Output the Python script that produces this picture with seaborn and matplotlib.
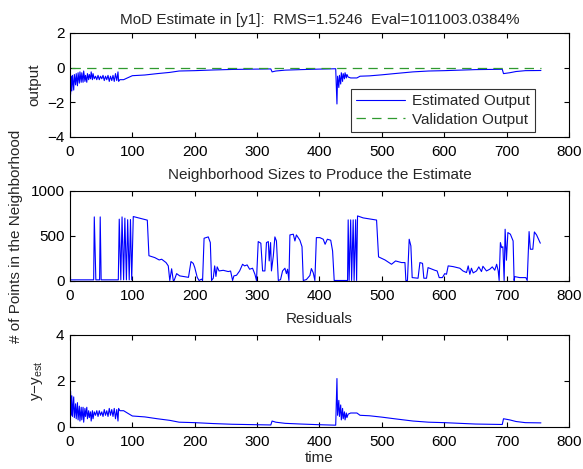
import matplotlib
matplotlib.use("Agg")
import matplotlib.pyplot as plt
import seaborn as sns

# residuals y - y_est (validation output is 0)
res_t = [1, 2, 3, 4, 6, 7, 9, 10, 12, 13, 15, 16, 18, 19, 21, 22, 24, 25, 27, 28,
         30, 31, 33, 34, 36, 37, 39, 41, 43, 45, 47, 49, 51, 53, 55, 57, 59, 61, 63, 65,
         67, 69, 71, 73, 75, 77, 78, 80, 86, 92, 100, 120, 140, 160, 175, 200, 230, 260,
         300, 322, 324, 330, 345, 370, 400, 426, 428, 429, 431, 432, 434, 435, 437, 438,
         440, 441, 443, 444, 446, 450, 460, 465, 480, 500, 520, 550, 575, 600, 650, 693,
         695, 705, 715, 730, 755]
res_v = [1.55, 0.5, 1.35, 0.45, 1.3, 0.4, 1.0, 0.35, 1.05, 0.3, 0.9, 0.25, 0.85, 0.3, 0.85, 0.2, 0.8, 0.45, 0.85, 0.35,
         0.7, 0.4, 0.65, 0.25, 0.7, 0.35, 0.65, 0.5, 0.7, 0.45, 0.7, 0.5, 0.65, 0.45, 0.75, 0.5, 0.7, 0.45, 0.8, 0.5,
         0.75, 0.45, 0.8, 0.35, 0.75, 0.25, 0.8, 0.7, 0.7, 0.6, 0.47, 0.43, 0.35, 0.28, 0.2, 0.18, 0.14, 0.11,
         0.09, 0.08, 0.25, 0.2, 0.15, 0.12, 0.09, 0.07, 2.1, 0.5, 1.15, 0.45, 0.95, 0.3, 0.8, 0.35,
         0.65, 0.3, 0.6, 0.4, 0.55, 0.6, 0.6, 0.5, 0.48, 0.42, 0.35, 0.25, 0.2, 0.18, 0.12, 0.1,
         0.35, 0.3, 0.23, 0.18, 0.17]

# validation output (constant zero)
val_t = [1, 755]
val_v = [0, 0]

# estimated output = validation - residual
est_v = [0 - r for r in res_v]

# neighbourhood sizes
nb_t = [0, 38, 39, 41.5, 47.5, 48.5, 50, 77.5, 79, 81.5, 83.5, 86, 88, 90.5, 92.5, 95, 97, 99, 101.5, 110,
        124, 126.6, 136, 143, 147, 154, 157.6, 160, 163, 165.6, 167, 171, 176, 190, 194, 197.6, 200, 204, 207, 211,
        212.6, 215, 221.7, 225, 227, 229.7, 232, 234, 236, 239, 245.7, 253.7, 257.5, 260.7, 262.8, 267, 272, 276.7, 280, 284,
        288, 292.7, 296.5, 299, 301.8, 306, 308.8, 312.5, 315, 318, 319.4, 321.6, 323, 326, 328.5, 331, 334, 337.6, 340.8, 344.6,
        347, 348.8, 351, 352.6, 358, 360.6, 363, 368.6, 372, 374, 379, 384.6, 387, 390, 392.6, 395, 400.6, 406, 409, 412.6,
        418, 421, 423.6, 445, 446, 447.5, 450, 451.5, 454, 455.5, 458, 459.5, 461, 470, 491.5, 494.7, 505, 515.5, 522, 531.5,
        537, 538.5, 541, 543.8, 546.5, 548.6, 558, 561, 565.2, 567.3, 571.6, 574, 585, 588.6, 591.9, 597, 600.8, 603.6, 606.3, 614.3,
        625, 630, 635.7, 638.4, 641, 643.6, 646.4, 651.7, 655.4, 659.7, 662, 667.7, 673, 677, 681, 684, 686.5, 688, 690, 692,
        694, 696, 697.6, 699.7, 702, 706, 710.4, 712, 713, 721, 730.8, 733, 736, 738, 742, 744.5, 748, 754]
nb_v = [12, 12, 711, 12, 12, 711, 12, 12, 686, 12, 711, 12, 697, 12, 680, 12, 682, 12, 715, 700,
        675, 280, 259, 233, 241, 204, 167, 5, 135, 5, 5, 81, 56, 40, 215, 195, 150, 40, 5, 20,
        5, 474, 489, 426, 5, 30, 167, 50, 156, 111, 118, 104, 110, 5, 56, 63, 111, 185, 167, 178,
        130, 141, 74, 5, 437, 419, 111, 111, 426, 437, 222, 426, 111, 278, 489, 444, 5, 15, 111, 141,
        81, 130, 5, 511, 519, 444, 511, 452, 380, 5, 15, 60, 137, 90, 5, 481, 481, 463, 407, 463,
        452, 333, 5, 5, 678, 5, 678, 5, 678, 5, 680, 5, 722, 700, 676, 267, 233, 185, 222, 204,
        204, 5, 5, 463, 389, 37, 30, 204, 195, 30, 30, 148, 118, 111, 37, 37, 81, 74, 167, 159,
        141, 111, 93, 167, 74, 141, 89, 111, 156, 104, 163, 111, 130, 156, 119, 185, 111, 5, 426, 370,
        380, 5, 574, 230, 537, 519, 444, 5, 48, 37, 37, 5, 548, 352, 352, 544, 511, 419]

x_ticks = [0, 100, 200, 300, 400, 500, 600, 700, 800]

sns.set_style("ticks")
plt.rcParams['font.family'] = ['Liberation Sans', 'DejaVu Sans']
plt.rcParams['font.size'] = 11
plt.rcParams['mathtext.default'] = 'regular'
plt.rcParams['xtick.direction'] = 'in'
plt.rcParams['ytick.direction'] = 'in'
plt.rcParams['xtick.top'] = True
plt.rcParams['ytick.right'] = True
plt.rcParams['xtick.major.size'] = 3.5
plt.rcParams['ytick.major.size'] = 3.5
plt.rcParams['axes.linewidth'] = 0.8
plt.rcParams['axes.edgecolor'] = 'black'
plt.rcParams['xtick.color'] = 'black'
plt.rcParams['ytick.color'] = 'black'

fig = plt.figure(figsize=(5.83, 4.69), dpi=100)
ax1 = fig.add_axes([0.120, 0.708, 0.856, 0.222])
ax2 = fig.add_axes([0.120, 0.401, 0.856, 0.192])
ax3 = fig.add_axes([0.120, 0.090, 0.856, 0.196])

blue = '#0000ff'
green = '#2f9a2f'

# top: estimate vs validation
sns.lineplot(x=res_t, y=est_v, ax=ax1, color=blue, linewidth=0.8, estimator=None,
             label='Estimated Output')
sns.lineplot(x=val_t, y=val_v, ax=ax1, color=green, linewidth=0.9, estimator=None,
             label='Validation Output', linestyle=(0, (7.5, 5)))
ax1.set_ylim(-4, 2)
ax1.set_yticks([-4, -2, 0, 2])
ax1.set_title('MoD Estimate in [y1]:  RMS=1.5246  Eval=1011003.0384%', fontsize=11, pad=6)
ax1.set_ylabel('output')
ax1.yaxis.set_label_coords(-0.058, 0.5)
leg = ax1.legend(loc='lower right', bbox_to_anchor=(0.932, 0.048), borderaxespad=0,
                 frameon=True, fancybox=False, handlelength=3.2, handletextpad=0.45,
                 borderpad=0.35, labelspacing=0.3, fontsize=11)
leg.get_frame().set_edgecolor('black')
leg.get_frame().set_linewidth(0.8)

# middle: neighbourhood sizes
sns.lineplot(x=nb_t, y=nb_v, ax=ax2, color=blue, linewidth=0.8, estimator=None)
ax2.set_ylim(0, 1000)
ax2.set_yticks([0, 500, 1000])
ax2.set_title('Neighborhood Sizes to Produce the Estimate', fontsize=11, pad=8.5)
ax2.set_ylabel('# of Points in the Neighborhood')
ax2.yaxis.set_label_coords(-0.094, 0.5)

# bottom: residuals
sns.lineplot(x=res_t, y=res_v, ax=ax3, color=blue, linewidth=0.8, estimator=None)
ax3.set_ylim(0, 4)
ax3.set_yticks([0, 2, 4])
ax3.set_title('Residuals', fontsize=11, pad=8.5)
ax3.set_ylabel('y$-$y$_{est}$')
ax3.yaxis.set_label_coords(-0.05, 0.5)
ax3.set_xlabel('time', labelpad=1)

for ax in (ax1, ax2, ax3):
    ax.set_xlim(0, 800)
    ax.set_xticks(x_ticks)
    ax.tick_params(labelsize=11, width=0.8)
    ax.tick_params(axis='x', pad=6)
    ax.tick_params(axis='y', pad=4)

fig.savefig('out.png', dpi=100)
